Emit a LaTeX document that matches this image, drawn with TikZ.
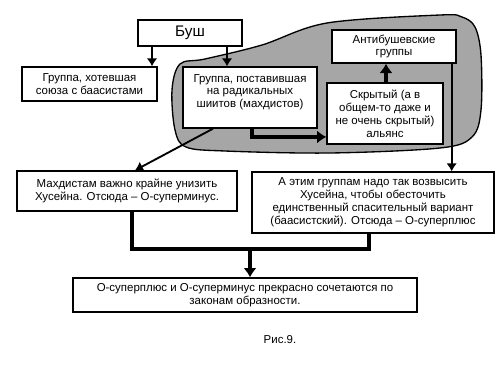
\documentclass[tikz,border=0pt]{standalone}
\usepackage{fontspec}
\setmainfont{Liberation Sans}
\usetikzlibrary{arrows.meta,calc}

\begin{document}
\begin{tikzpicture}[x=0.75pt, y=-0.75pt]
  \tikzset{
    box/.style={draw=black, fill=white, line width=1pt, align=center,
      inner sep=0pt, font=\fontsize{8.6}{9.7}\selectfont},
    arr/.style={-{Latex[length=6pt, width=8pt]}, line width=1.6pt},
    fatarr/.style={-{Latex[length=7pt, width=10pt]}, line width=2.6pt},
    fatline/.style={line width=2.6pt},
  }

  \useasboundingbox (0,0) rectangle (500,375);

  % grey area
  \draw[fill=gray!70, line width=1pt] plot[smooth cycle, tension=0.55] coordinates {
    (440,15) (327,23) (262,45) (205,59) (180,64) (172,90)
    (175,130) (186,147) (225,151) (330,153) (440,148)
    (472,137) (481,110) (481,55) (475,27) (462,17)
  };

  \node[box, minimum width=104*0.75pt, minimum height=26*0.75pt,
    font=\fontsize{11.5}{13}\selectfont] (bush) at (190,33) {Буш};
  \node[box, minimum width=135*0.75pt, minimum height=34*0.75pt] (grpA) at (89.5,84)
    {Группа, хотевшая\\союза с баасистами};
  \node[box, minimum width=134*0.75pt, minimum height=61*0.75pt] (grpM) at (250,97.5)
    {Группа, поставившая\\на радикальных\\шиитов (махдистов)\\\mbox{}};
  \node[box, minimum width=124*0.75pt, minimum height=33*0.75pt] (anti) at (394,46.5)
    {Антибушевские\\группы};
  \node[box, minimum width=116*0.75pt, minimum height=61*0.75pt] (alliance) at (385,113.5)
    {Скрытый (а в\\общем-то даже и\\не очень скрытый)\\альянс};
  \node[box, minimum width=220*0.75pt, minimum height=40*0.75pt] (mahd) at (127,191)
    {Махдистам важно крайне унизить\\Хусейна. Отсюда -- О-суперминус.};
  \node[box, minimum width=242*0.75pt, minimum height=61*0.75pt] (grpR) at (373,202.5)
    {А этим группам надо так возвысить\\Хусейна, чтобы обесточить\\единственный спасительный вариант\\(баасистский). Отсюда -- О-суперплюс};
  \node[box, minimum width=344*0.75pt, minimum height=34*0.75pt] (final) at (245,295)
    {О-суперплюс и О-суперминус прекрасно сочетаются по\\законам образности.};
  \node[font=\fontsize{8.6}{9.7}\selectfont] (caption) at (280,340) {Рис.9.};

  \coordinate (join) at (250,249);

  % arrows
  \draw[arr] ([xshift=-28.5pt]bush.south) -- ([xshift=-28.5pt]bush.south |- grpA.north);
  \draw[arr] ([xshift=27.75pt]bush.south) -- ([xshift=27.75pt]bush.south |- grpM.north);
  \draw[fatarr] ([xshift=1.5pt]grpM.south) |- ([yshift=-17.6pt]alliance.west);
  \draw[fatarr] ([xshift=0.75pt]alliance.north) -- ([xshift=0.75pt]alliance.north |- anti.south);
  \draw[arr] ([xshift=-3.75pt]anti.south east) -- ([xshift=-3.75pt]anti.south east |- grpR.north);
  \draw[arr, line width=1.4pt] ([xshift=-27.75pt]grpM.south) -- ([xshift=6pt]mahd.north);
  \draw[fatline] ([xshift=3.75pt]mahd.south) |- (join);
  \draw[fatline] ([xshift=-3pt]grpR.south) |- (join);
  \draw[fatarr] (join) -- (join |- final.north);
\end{tikzpicture}
\end{document}
